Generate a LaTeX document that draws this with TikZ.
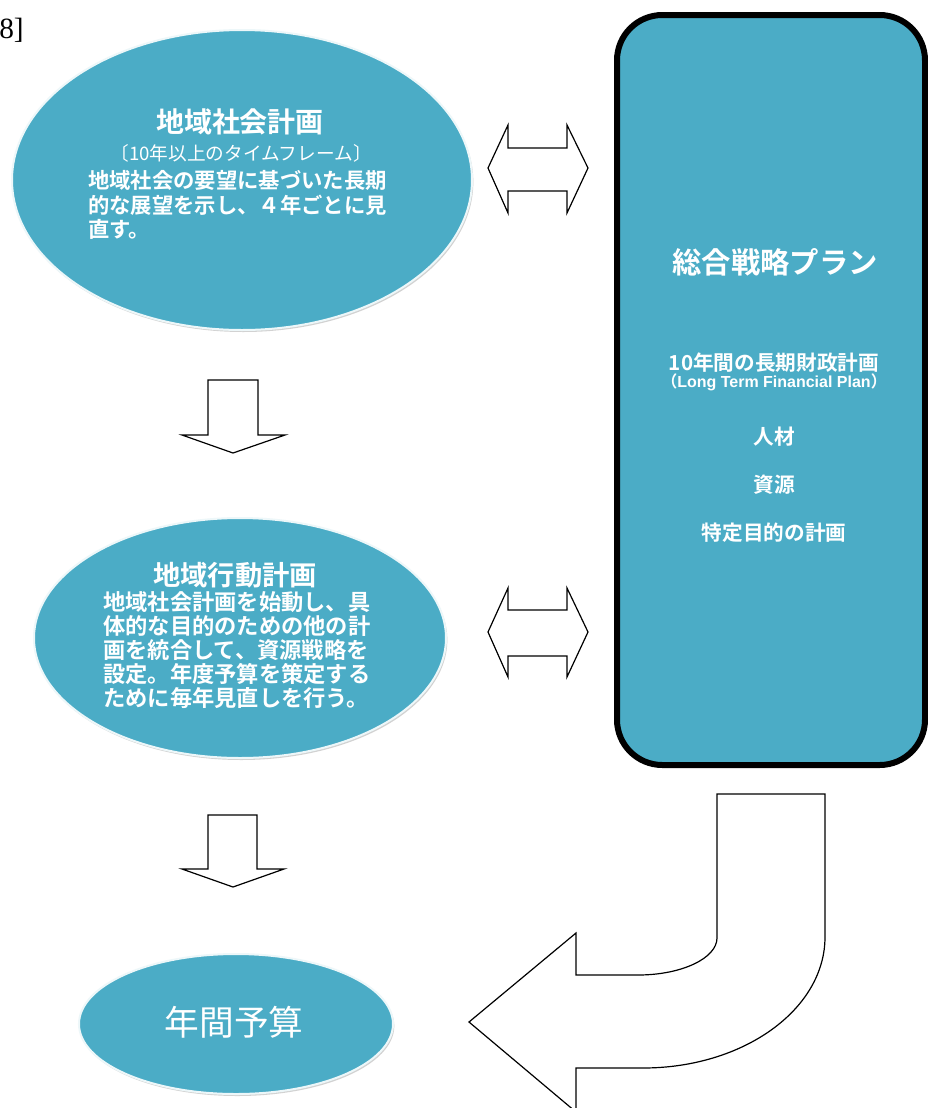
\documentclass[tikz,border=0pt]{standalone}
\usepackage{fontspec}
\newfontfamily\cjk{Noto Sans CJK JP}[BoldFont={Noto Sans CJK JP Bold}]
\newfontfamily\latb{Liberation Sans}
\newfontfamily\serifx{Liberation Serif}
\usetikzlibrary{shapes.geometric,shadows}
\definecolor{aqua}{HTML}{4BACC6}
\begin{document}
\begin{tikzpicture}[x=0.75pt,y=-0.75pt,
  ell/.style={ellipse, fill=aqua, draw=white!90!aqua, line width=1.5pt, inner sep=0pt,
    drop shadow={opacity=0.35, shadow xshift=1pt, shadow yshift=-1.5pt}},
  txt/.style={text=white, inner sep=0pt, font=\cjk\bfseries},
  blk/.style={draw=black, fill=white, line width=0.9pt, line join=miter}]
\path[fill=white] (0,0) rectangle (928,1108);
\useasboundingbox (0,0) rectangle (928,1108);

% stray text at top-left
\node[anchor=base west, inner sep=0pt, font=\serifx\fontsize{22}{24}\selectfont] (stray) at (-1,38) {8]};

% ellipses
\node[ell, minimum width=345pt, minimum height=225pt] (e1) at (242,180) {};
\node[ell, minimum width=309pt, minimum height=180pt] (e2) at (240,638) {};
\node[ell, minimum width=235.5pt, minimum height=105pt] (e3) at (236,1024) {};

% rounded rectangle
\node[draw=black, fill=aqua, line width=4.5pt, rounded corners=34pt,
  minimum width=231pt, minimum height=562.5pt, inner sep=0pt] (plan) at (771,390) {};

% texts of ellipse 1
\node[txt, font=\cjk\bfseries\fontsize{21}{24}\selectfont] (t1) at (240,122) {地域社会計画};
\node[txt, font=\cjk\fontsize{14}{16}\selectfont] (s1) at (241,153) {〔10年以上のタイムフレーム〕};
\node[txt, anchor=west, align=left, font=\cjk\bfseries\fontsize{16}{18.4}\selectfont] (b1) at (88,205)
  {地域社会の要望に基づいた長期\\的な展望を示し、４年ごとに見\\直す。};

% texts of ellipse 2
\node[txt, font=\cjk\bfseries\fontsize{20.5}{24}\selectfont] (t2) at (235,575) {地域行動計画};
\node[txt, anchor=west, align=left, font=\cjk\bfseries\fontsize{16.7}{18}\selectfont] (b2) at (103,650)
  {地域社会計画を始動し、具\\体的な目的のための他の計\\画を統合して、資源戦略を\\設定。年度予算を策定する\\ために毎年見直しを行う。};

% text of ellipse 3
\node[txt, font=\cjk\fontsize{26}{30}\selectfont] (t3) at (234,1022) {年間予算};

% texts of rectangle
\node[txt, font=\cjk\bfseries\fontsize{22}{26}\selectfont] (p0) at (775,262) {総合戦略プラン};
\node[txt, font=\cjk\bfseries\fontsize{15.5}{18}\selectfont] (p1) at (774,363) {10年間の長期財政計画};
\node[txt, font=\cjk\bfseries\fontsize{12}{14}\selectfont] (p1b) at (774,382) {（{\latb\bfseries Long Term Financial Plan}）};
\node[txt, font=\cjk\bfseries\fontsize{15.5}{18}\selectfont] (p2) at (774,437) {人材};
\node[txt, font=\cjk\bfseries\fontsize{15.5}{18}\selectfont] (p3) at (774,485) {資源};
\node[txt, font=\cjk\bfseries\fontsize{15.5}{18}\selectfont] (p4) at (774,533) {特定目的の計画};

% double arrows
\draw[blk] (488,168) -- (508,125) -- (508,148) -- (567,148) -- (567,125) -- (588,168)
  -- (567,213) -- (567,191) -- (508,191) -- (508,213) -- cycle;
\draw[blk] (488,632) -- (508,588) -- (508,610) -- (567,610) -- (567,588) -- (588,632)
  -- (567,677) -- (567,656) -- (508,656) -- (508,677) -- cycle;

% down arrows
\draw[blk] (208,380) -- (258,380) -- (258,435) -- (285,435) -- (233,453) -- (182,435) -- (208,435) -- cycle;
\draw[blk] (208,815) -- (257,815) -- (257,869) -- (284,869) -- (233,887) -- (182,869) -- (208,869) -- cycle;

% curved arrow
\draw[blk] (717,794) -- (825,794) -- (825,937)
  .. controls (825,1009) and (744,1068) .. (643,1068)
  -- (576,1068) -- (576,1112) -- (469,1022) -- (576,933) -- (576,975) -- (638,975)
  .. controls (682,975) and (717,958) .. (717,938) -- cycle;
\end{tikzpicture}
\end{document}
